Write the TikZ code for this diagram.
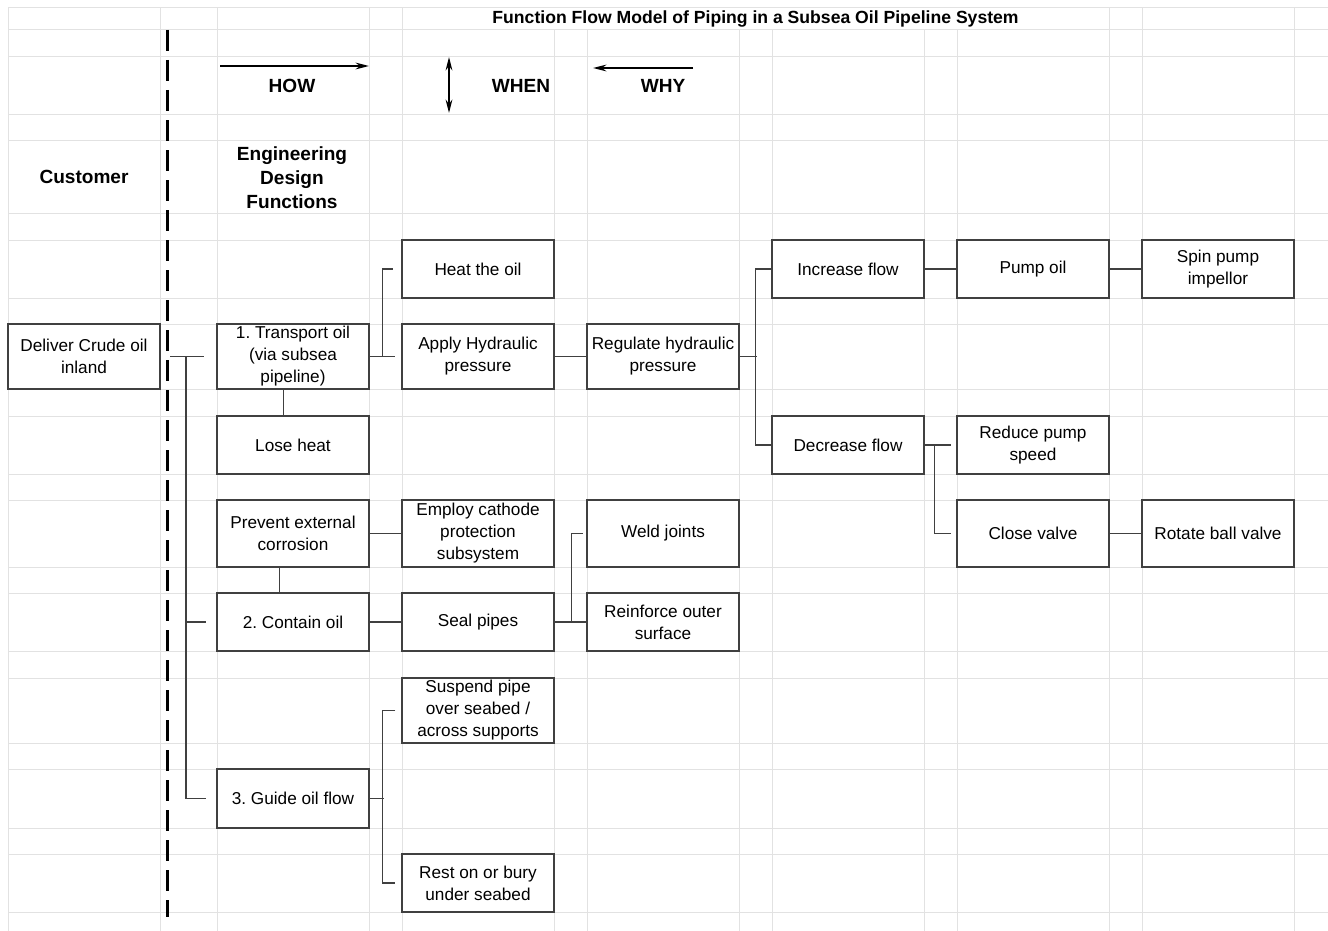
\documentclass[tikz,border=0pt]{standalone}
\usepackage{fontspec}
\setmainfont{Liberation Sans}
\usetikzlibrary{arrows.meta}
\definecolor{gridgray}{RGB}{226,226,226}
\definecolor{boxgray}{RGB}{64,64,64}
\frenchspacing
\tikzset{
  fbox/.style={draw=boxgray, line width=1pt, fill=white, minimum width=114pt,
    align=center, inner sep=0pt, font=\fontsize{12.9}{16.5}\selectfont},
  conn/.style={draw=boxgray, line width=1pt},
  hdr/.style={font=\fontsize{14.3}{18}\selectfont\bfseries, align=center},
  dirarrow/.style={line width=1.5pt, -{Stealth[length=10pt,width=5pt]}},
  bothways/.style={line width=1.5pt, {Stealth[length=10pt,width=5pt]}-{Stealth[length=10pt,width=5pt]}},
}
\begin{document}
\begin{tikzpicture}[x=0.75pt,y=0.75pt,yscale=-1,xscale=1]
\useasboundingbox (0,0) rectangle (1328,931);
% sheet grid
\foreach \gy in {8,30,57,114,140,213,240,298,324,389,416,474,500,567,593,651,678,743,769,828,854,912}
  \draw[gridgray, line width=0.75pt] (8,\gy) -- (1328,\gy);
\foreach \gx in {8,160,217,369,402,1109,1142,1294}
  \draw[gridgray, line width=0.75pt] (\gx,8) -- (\gx,931);
\foreach \gx in {554,587,739,772,924,957}
  \draw[gridgray, line width=0.75pt] (\gx,30) -- (\gx,931);

% headings
\node[font=\fontsize{13.2}{16}\selectfont\bfseries] (title) at (755.5,19) {Function Flow Model of Piping in a Subsea Oil Pipeline System};
\node[hdr] (how) at (292,86) {HOW};
\node[hdr] (when) at (521,86) {WHEN};
\node[hdr] (why) at (663,86) {WHY};
\node[hdr] (cust) at (84,177) {Customer};
\node[hdr] (edf) at (292,178) {Engineering\\Design\\Functions};

\coordinate (howA) at (220,66);
\coordinate (howB) at (369,66);
\coordinate (whenA) at (449,57);
\coordinate (whenB) at (449,113);
\coordinate (whyA) at (693,68);
\coordinate (whyB) at (593,68);
\draw[dirarrow] (howA) -- (howB);
\draw[bothways] (whenA) -- (whenB);
\draw[dirarrow] (whyA) -- (whyB);

% scope line
\draw[line width=2.25pt, dash pattern=on 15.75pt off 6.75pt] (167,30) -- (167,917);

% function boxes
\node[fbox, minimum height=48.75pt] (deliver) at (84,356.5) {Deliver Crude oil\\inland};
\node[fbox, minimum height=48.75pt] (trans) at (293,356.5) {1. Transport oil\\(via subsea\\pipeline)};
\node[fbox, minimum height=43.5pt] (lose) at (293,445) {Lose heat};
\node[fbox, minimum height=43.5pt] (heat) at (478,269) {Heat the oil};
\node[fbox, minimum height=48.75pt] (apply) at (478,356.5) {Apply Hydraulic\\pressure};
\node[fbox, minimum height=48.75pt] (reg) at (663,356.5) {Regulate hydraulic\\pressure};
\node[fbox, minimum height=43.5pt] (incr) at (848,269) {Increase flow};
\node[fbox, minimum height=43.5pt] (pump) at (1033,269) {Pump oil};
\node[fbox, minimum height=43.5pt] (spin) at (1218,269) {Spin pump\\impellor};
\node[fbox, minimum height=43.5pt] (decr) at (848,445) {Decrease flow};
\node[fbox, minimum height=43.5pt] (reduce) at (1033,445) {Reduce pump\\speed};
\node[fbox, minimum height=50.25pt] (close) at (1033,533.5) {Close valve};
\node[fbox, minimum height=50.25pt] (rotate) at (1218,533.5) {Rotate ball valve};
\node[fbox, minimum height=50.25pt] (prev) at (293,533.5) {Prevent external\\corrosion};
\node[fbox, minimum height=50.25pt] (employ) at (478,533.5) {Employ cathode\\protection\\subsystem};
\node[fbox, minimum height=50.25pt] (weld) at (663,533.5) {Weld joints};
\node[fbox, minimum height=43.5pt] (contain) at (293,622) {2. Contain oil};
\node[fbox, minimum height=43.5pt] (seal) at (478,622) {Seal pipes};
\node[fbox, minimum height=43.5pt] (reinf) at (663,622) {Reinforce outer\\surface};
\node[fbox, minimum height=48.75pt] (susp) at (478,710.5) {Suspend pipe\\over seabed /\\across supports};
\node[fbox, minimum height=44.25pt] (guide) at (293,798.5) {3. Guide oil flow};
\node[fbox, minimum height=43.5pt] (rest) at (478,883) {Rest on or bury\\under seabed};

% connectors
\coordinate (trunk) at (186,356.5);
\draw[conn] ([xshift=7pt]deliver.east) -- ([xshift=-9pt]trans.west);
\draw[conn] (trunk) |- ([xshift=-7.5pt]guide.west);
\draw[conn] (trunk |- contain) -- ([xshift=-7.5pt]contain.west);

\draw[conn] (trans.east) -- ([xshift=-5pt]apply.west);
\draw[conn] (trans.east) ++(13,0) |- ([xshift=-6pt]heat.west);
\draw[conn] ([xshift=-7pt]trans.south) -- ([xshift=-7pt]lose.north);
\draw[conn] (apply) -- (reg);

\draw[conn] (reg.east) -- ++(17,0);
\draw[conn] (incr.west) -- ++(-16,0) |- (decr.west);
\draw[conn] (incr) -- (pump);
\draw[conn] (pump) -- (spin);

\draw[conn] (decr.east) -- ([xshift=-3.75pt]reduce.west);
\draw[conn] (decr.east) ++(10,0) |- ([xshift=-3.75pt]close.west);
\draw[conn] (close) -- (rotate);

\draw[conn] (prev) -- (employ);
\draw[conn] ([xshift=-10pt]prev.south) -- ([xshift=-10pt]contain.north);
\draw[conn] (contain) -- (seal);
\draw[conn] (seal) -- (reinf);
\draw[conn] (seal.east) ++(17,0) |- ([xshift=-2.25pt]weld.west);

\draw[conn] (guide.east) -- ++(14,0);
\draw[conn] ([xshift=-4.5pt]susp.west) -- ++(-13,0) |- ([xshift=-4.5pt]rest.west);
\end{tikzpicture}
\end{document}
